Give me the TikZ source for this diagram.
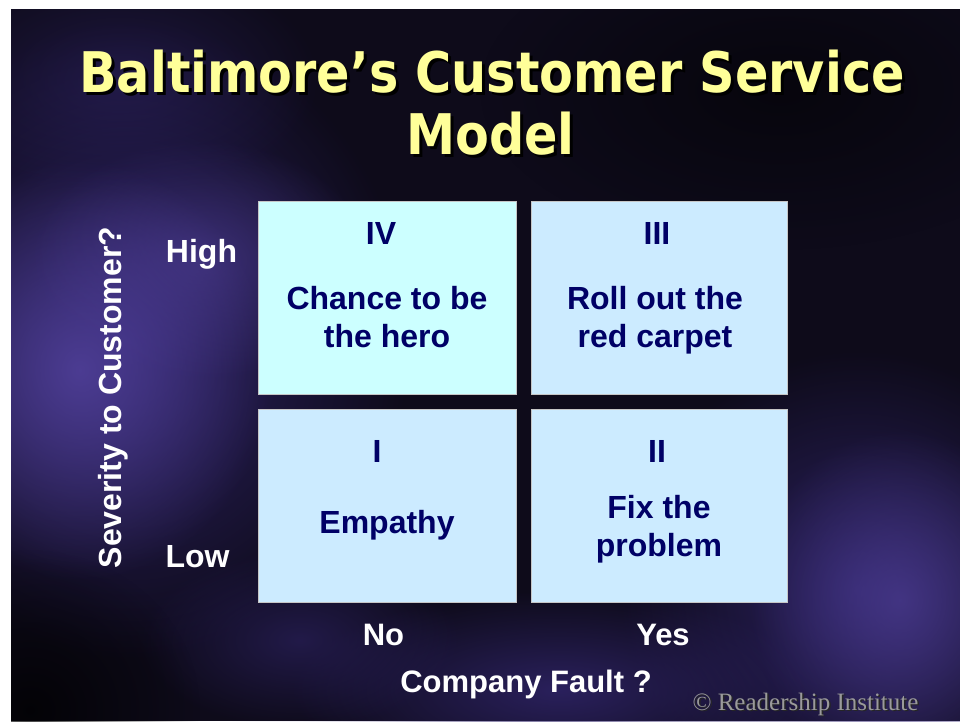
\documentclass[tikz,border=0pt]{standalone}
\usepackage{fontspec}
\setmainfont{Liberation Sans}
\newfontfamily\titlefont[FakeStretch=0.88]{DejaVu Sans}
\newfontfamily\creditfont{Liberation Serif}
\usetikzlibrary{fadings}

\definecolor{bgdark}{HTML}{0E0B1A}
\definecolor{glowpurple}{HTML}{4E3E96}
\definecolor{glowdeep}{HTML}{2F2468}
\definecolor{titleyellow}{HTML}{FFFF99}
\definecolor{navy}{HTML}{000066}
\definecolor{cellcyan}{HTML}{CCFFFF}
\definecolor{cellblue}{HTML}{CCEBFF}
\definecolor{creditgray}{HTML}{9A9A9A}

\tikzfading[name=softglow, inner color=transparent!0, outer color=transparent!100]

% text with a dark drop shadow set inside the same box
\newcommand\dropshadowed[3]{\makebox[0pt][l]{\hspace*{#1}\raisebox{-#1}{\textcolor{#2}{#3}}}#3}

\tikzset{
  cell/.style={draw=gray!45, line width=0.8pt, fill=cellblue, minimum height=193pt, inner sep=0pt},
  celltext/.style={anchor=base, text=navy, font=\fontsize{32}{32}\selectfont\bfseries, inner sep=0pt},
  axislabel/.style={anchor=base, text=white, font=\fontsize{31}{31}\selectfont\bfseries, inner sep=0pt},
  titletext/.style={anchor=base, inner sep=0pt, text=titleyellow, font=\titlefont\fontsize{56}{56}\selectfont\bfseries},
  glow/.style={path fading=softglow}
}

\begin{document}
\begin{tikzpicture}[x=1pt, y=-1pt]
\useasboundingbox (0,0) rectangle (960,721);
\fill[white] (0,0) rectangle (960,721);

% clouded slide background
\begin{scope}
  \clip (11,9) rectangle (960,721);
  \fill[bgdark] (11,9) rectangle (960,721);
  \fill[glowdeep, glow, opacity=0.95] (130,340) ellipse (280pt and 320pt);
  \fill[glowpurple, glow, opacity=0.95] (80,370) ellipse (190pt and 210pt);
  \fill[glowpurple, glow, opacity=0.6] (200,260) ellipse (170pt and 120pt);
  \fill[glowdeep, glow, opacity=0.9] (860,590) ellipse (240pt and 240pt);
  \fill[glowpurple, glow, opacity=0.7] (900,600) ellipse (150pt and 170pt);
  \fill[glowdeep, glow, opacity=0.85] (560,690) ellipse (270pt and 100pt);
  \fill[glowdeep, glow, opacity=0.6] (300,640) ellipse (160pt and 90pt);
  \fill[black, glow, opacity=0.75] (30,710) ellipse (170pt and 160pt);
  \fill[black, glow, opacity=0.5] (780,90) ellipse (300pt and 160pt);
  \fill[glowdeep, glow, opacity=0.5] (120,80) ellipse (200pt and 120pt);
\end{scope}

% title
\node[titletext] (title1) at (492,92) {\dropshadowed{3pt}{black}{Baltimore’s Customer Service}};
\node[titletext] (title2) at (490.5,154) {\dropshadowed{3pt}{black}{Model}};

% the four quadrants
\node[cell, fill=cellcyan, minimum width=258pt] (cellIV) at (387,297.5) {};
\node[cell, minimum width=256pt] (cellIII) at (659,297.5) {};
\node[cell, minimum width=258pt] (cellI) at (387,505.5) {};
\node[cell, minimum width=256pt] (cellII) at (659,505.5) {};

\node[celltext] (numIV) at (381,244) {IV};
\node[celltext] (txtIVa) at (387,309) {Chance to be};
\node[celltext] (txtIVb) at (387,347) {the hero};

\node[celltext] (numIII) at (657,244) {III};
\node[celltext] (txtIIIa) at (655,309) {Roll out the};
\node[celltext] (txtIIIb) at (655,347) {red carpet};

\node[celltext] (numI) at (377,462) {I};
\node[celltext] (txtI) at (387,533) {Empathy};

\node[celltext] (numII) at (657,462) {II};
\node[celltext] (txtIIa) at (659,518) {Fix the};
\node[celltext] (txtIIb) at (659,556) {problem};

% axes
\node[axislabel, font=\fontsize{32}{32}\selectfont\bfseries] (high) at (201.5,262) {High};
\node[axislabel, font=\fontsize{32}{32}\selectfont\bfseries] (low) at (197.5,567) {Low};
\node[axislabel, rotate=90, font=\fontsize{32}{32}\selectfont\bfseries] (severity) at (121,397.5) {Severity to Customer?};

\node[axislabel] (no) at (383.5,645) {No};
\node[axislabel] (yes) at (663,645) {Yes};
\node[axislabel] (fault) at (526,692) {Company Fault ?};

% credit line
\node[anchor=base, inner sep=0pt, text=creditgray, font=\creditfont\fontsize{25}{25}\selectfont] (credit) at (805.5,710) {\dropshadowed{1.5pt}{black!85}{© Readership Institute}};
\end{tikzpicture}
\end{document}
